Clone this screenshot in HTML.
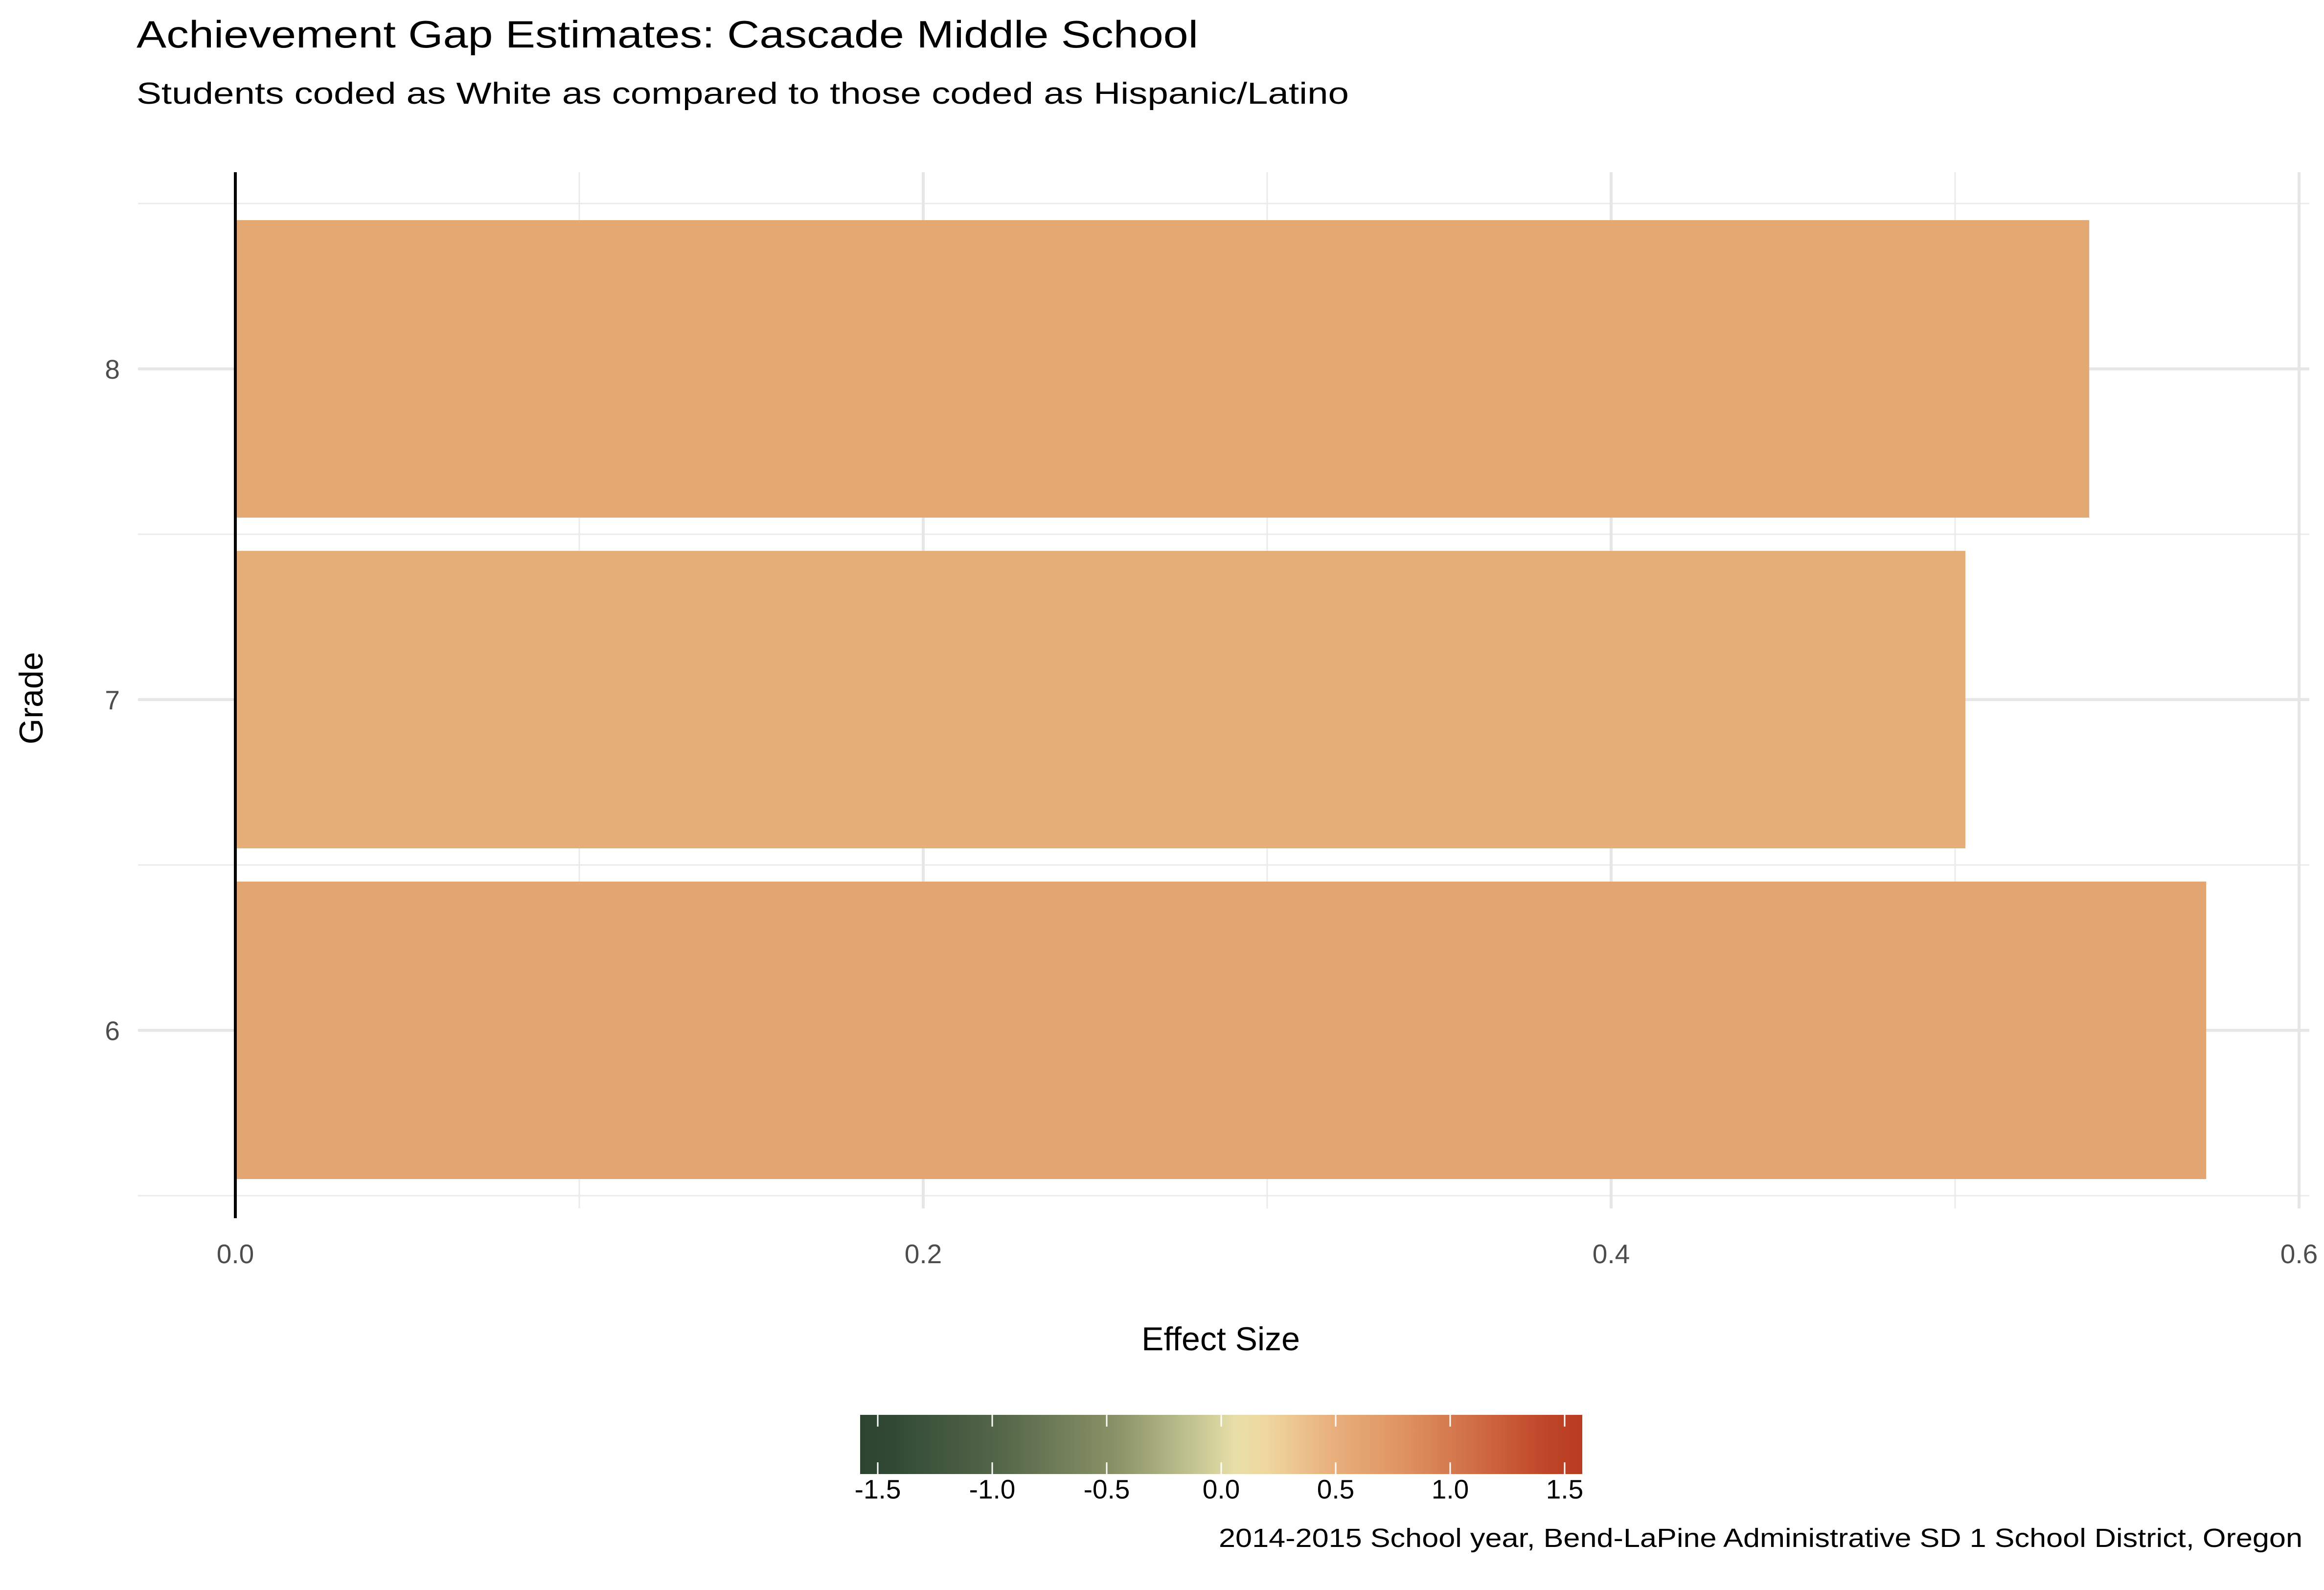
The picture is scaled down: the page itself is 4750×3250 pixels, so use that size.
<!DOCTYPE html>
<html><head><meta charset="utf-8"><style>
html,body{margin:0;padding:0;background:#fff;}
svg{display:block;font-family:"Liberation Sans",Arial,sans-serif;}
</style></head><body>
<svg id="chart" width="4750" height="3250" viewBox="0 0 4750 3250" xmlns="http://www.w3.org/2000/svg">
<defs>
<linearGradient id="cbar" x1="0" x2="1" y1="0" y2="0">
<stop offset="0" stop-color="#2c4430"/>
<stop offset="0.05" stop-color="#324a35"/>
<stop offset="0.2" stop-color="#56684a"/>
<stop offset="0.36" stop-color="#8c9468"/>
<stop offset="0.45" stop-color="#bcbf8e"/>
<stop offset="0.52" stop-color="#e8dfa8"/>
<stop offset="0.56" stop-color="#efd8a0"/>
<stop offset="0.65" stop-color="#e8b17e"/>
<stop offset="0.75" stop-color="#df9462"/>
<stop offset="0.85" stop-color="#d06d46"/>
<stop offset="0.95" stop-color="#bf4528"/>
<stop offset="1" stop-color="#b83c20"/>
</linearGradient>
</defs>
<text x="279" y="97" font-size="78" fill="#000" textLength="2170" lengthAdjust="spacingAndGlyphs">Achievement Gap Estimates: Cascade Middle School</text>
<text x="279" y="212" font-size="62" fill="#000" textLength="2478" lengthAdjust="spacingAndGlyphs">Students coded as White as compared to those coded as Hispanic/Latino</text>
<g id="grid"></g>
<g id="bars"></g>
<g id="axes"></g>
<text x="2495" y="2760" font-size="68" text-anchor="middle" fill="#000">Effect Size</text>
<text transform="translate(87,1427) rotate(-90)" font-size="68" text-anchor="middle" fill="#000">Grade</text>
<g id="legend"></g>
<text x="4706" y="3162" font-size="54" text-anchor="end" fill="#000" textLength="2215" lengthAdjust="spacingAndGlyphs">2014-2015 School year, Bend-LaPine Administrative SD 1 School District, Oregon</text>
</svg>
<script>
const grades = ["6","7","8"];
const effectSizes = [0.573, 0.503, 0.539];
const barColors = ["#e3a571","#e6ae78","#e4a873"];
const xTicks = [0, 0.2, 0.4, 0.6];
const xTickLabels = ["0.0","0.2","0.4","0.6"];
const xMinor = [0.1, 0.3, 0.5];
const legendTicks = [-1.5,-1.0,-0.5,0.0,0.5,1.0,1.5];
const legendLabels = ["-1.5","-1.0","-0.5","0.0","0.5","1.0","1.5"];

const NS = "http://www.w3.org/2000/svg";
const x0 = 481, pxPerUnit = 7030;
function xs(v){ return x0 + v*pxPerUnit; }
const yCenter8 = 754, step = 676;
function ys(i){ return yCenter8 + (grades.length-1-i)*step; }
const panelL = 282, panelR = 4720, panelT = 352, panelB = 2470;
function mk(tag, attrs, parent){
  const e = document.createElementNS(NS, tag);
  for (const k in attrs) e.setAttribute(k, attrs[k]);
  parent.appendChild(e); return e;
}
const grid = document.getElementById('grid');
for (let i=0;i<=grades.length;i++){
  const y = ys(0) + step/2 - i*step;
  const l = mk('line',{x1:panelL,x2:panelR,y1:y,y2:y,stroke:'#ebebeb','stroke-width':3},grid);
  
  
}
xMinor.forEach(v=>{
  const l = mk('line',{x1:xs(v),x2:xs(v),y1:panelT,y2:panelB,stroke:'#ebebeb','stroke-width':3},grid);
  
  
});
grades.forEach((g,i)=>{
  const l = mk('line',{x1:panelL,x2:panelR,y1:ys(i),y2:ys(i),stroke:'#e6e6e6','stroke-width':6},grid);
  
  
});
xTicks.forEach(v=>{
  const l = mk('line',{x1:xs(v),x2:xs(v),y1:panelT,y2:panelB,stroke:'#e6e6e6','stroke-width':6},grid);
  
  
});
const bars = document.getElementById('bars');
const halfH = 304;
grades.forEach((g,i)=>{
  const v = effectSizes[i];
  const r = mk('rect',{x:Math.min(xs(0),xs(v)),y:ys(i)-halfH,width:Math.abs(xs(v)-xs(0)),height:2*halfH,fill:barColors[i]},bars);
  
  
});
const axes = document.getElementById('axes');
const zl = mk('line',{x1:xs(0),x2:xs(0),y1:panelT,y2:2490,stroke:'#000','stroke-width':6},axes);


xTicks.forEach((v,i)=>{
  const t = mk('text',{x:xs(v),y:2582,'font-size':55,'text-anchor':'middle',fill:'#4d4d4d'},axes);
  t.textContent = xTickLabels[i];
  
  
});
grades.forEach((g,i)=>{
  const t = mk('text',{x:245,y:ys(i)+20,'font-size':55,'text-anchor':'end',fill:'#4d4d4d'},axes);
  t.textContent = g;
  
  
});
const leg = document.getElementById('legend');
const cbL = 1758, cbR = 3234, cbT = 2892, cbB = 3013;
const lMin = -1.577, lMax = 1.577;
function ls(v){ return cbL + (v-lMin)/(lMax-lMin)*(cbR-cbL); }
const cb = mk('rect',{x:cbL,y:cbT,width:cbR-cbL,height:cbB-cbT,fill:'url(#cbar)'},leg);


legendTicks.forEach((v,i)=>{
  const a = mk('line',{x1:ls(v),x2:ls(v),y1:cbT,y2:cbT+24,stroke:'#fff','stroke-width':3},leg);
  
  
  const b = mk('line',{x1:ls(v),x2:ls(v),y1:cbB-24,y2:cbB,stroke:'#fff','stroke-width':3},leg);
  
  
  const t = mk('text',{x:ls(v),y:3063,'font-size':55,'text-anchor':'middle',fill:'#000'},leg);
  t.textContent = legendLabels[i];
  
  
});
</script>
</body></html>
